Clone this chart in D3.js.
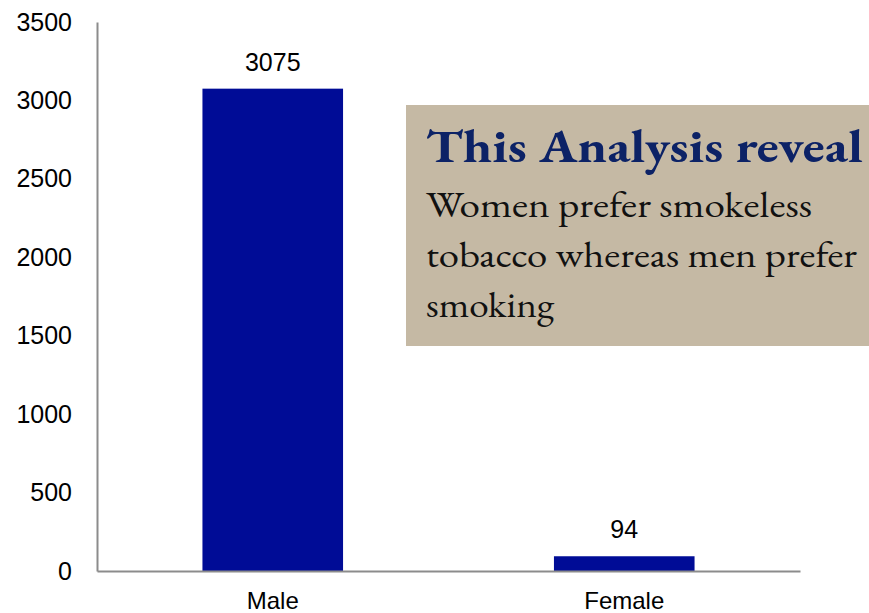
<!DOCTYPE html>
<html>
<head>
<meta charset="utf-8">
<script src="https://cdn.jsdelivr.net/npm/d3@7/dist/d3.min.js"></script>
<style>
  html, body { margin: 0; padding: 0; background: #fff; }
  svg { display: block; }
</style>
</head>
<body>
<svg id="chart" width="869" height="613"></svg>
<script>
// Tobacco users by gender
const categories = ["Male", "Female"];
const values = [3075, 94];
const yTicks = [0, 500, 1000, 1500, 2000, 2500, 3000, 3500];

const noteTitle = "This Analysis reveal";
const noteLines = ["Women prefer smokeless", "tobacco whereas men prefer", "smoking"];

const svg = d3.select("#chart");
const plotLeft = 97, plotRight = 800, plotTop = 22, plotBottom = 571;

const x = d3.scaleBand()
  .domain(categories)
  .range([plotLeft, plotRight])
  .paddingInner(0.6)
  .paddingOuter(0.3);

const y = d3.scaleLinear()
  .domain([0, 3500])
  .range([plotBottom, plotTop]);

const font = "'Liberation Sans', Arial, sans-serif";

// Bars
svg.append("g").selectAll("rect")
  .data(values)
  .join("rect")
  .attr("x", (d, i) => x(categories[i]))
  .attr("width", x.bandwidth())
  .attr("y", d => y(d))
  .attr("height", d => plotBottom - y(d))
  .attr("fill", "#000c96");

// Value labels
svg.append("g").selectAll("text")
  .data(values)
  .join("text")
  .attr("x", (d, i) => x(categories[i]) + x.bandwidth() / 2)
  .attr("y", d => y(d) - 18)
  .attr("text-anchor", "middle")
  .attr("font-family", font)
  .attr("font-size", 25)
  .attr("fill", "#000")
  .text(d => d);

// Y axis
const yAxis = svg.append("g")
  .attr("transform", `translate(${plotLeft},0)`)
  .call(d3.axisLeft(y).tickValues(yTicks).tickFormat(d3.format("d")).tickSize(0).tickPadding(25));
yAxis.select(".domain").attr("stroke", "#8c8c8c").attr("stroke-width", 2);
yAxis.selectAll("text")
  .attr("font-family", font)
  .attr("font-size", 25)
  .attr("fill", "#000");

// X axis
const xAxis = svg.append("g")
  .attr("transform", `translate(0,${plotBottom})`)
  .call(d3.axisBottom(x).tickSize(0));
xAxis.select(".domain").attr("stroke", "#8c8c8c").attr("stroke-width", 2);
xAxis.selectAll("text")
  .attr("y", 38)
  .attr("dy", 0)
  .attr("font-family", font)
  .attr("font-size", 24)
  .attr("fill", "#000");

// Note box
const note = svg.append("g");
note.append("rect")
  .attr("x", 406).attr("y", 105)
  .attr("width", 463).attr("height", 241)
  .attr("fill", "#c5b9a4");

const serif = "'EB Garamond', Garamond, 'Liberation Serif', 'DejaVu Serif', serif";
note.append("text")
  .attr("x", 426).attr("y", 162)
  .attr("font-family", serif)
  .attr("font-weight", "bold")
  .attr("font-size", 45)
  .attr("fill", "#0c2266")
  .attr("textLength", 437)
  .attr("lengthAdjust", "spacingAndGlyphs")
  .text(noteTitle);

const lineWidths = [386, 431, 128];
note.selectAll("text.line")
  .data(noteLines)
  .join("text")
  .attr("class", "line")
  .attr("x", 426)
  .attr("y", (d, i) => 217 + i * 50)
  .attr("font-family", serif)
  .attr("font-size", 37)
  .attr("fill", "#111")
  .attr("textLength", (d, i) => lineWidths[i])
  .attr("lengthAdjust", "spacingAndGlyphs")
  .text(d => d);
</script>
</body>
</html>
